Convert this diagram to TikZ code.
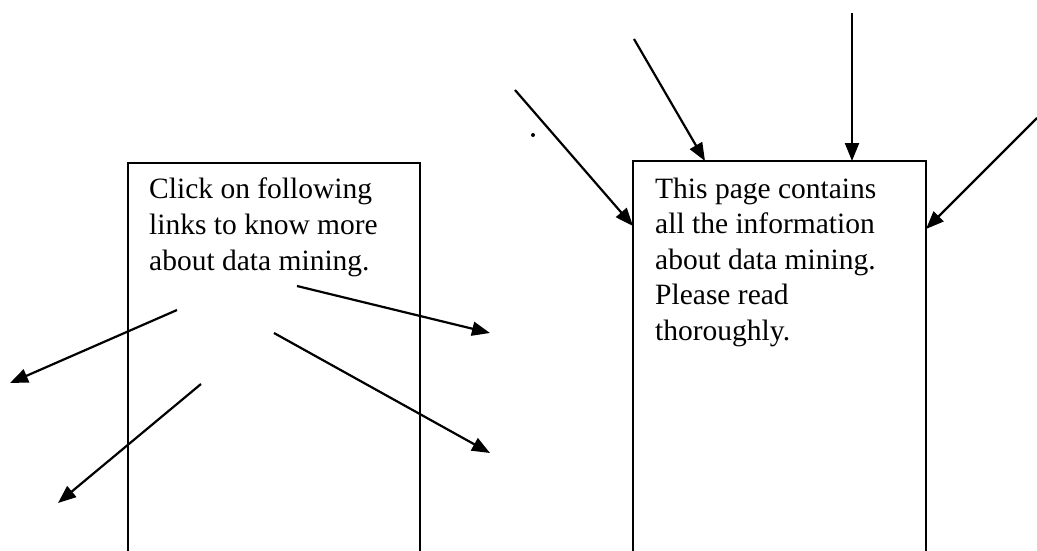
\documentclass[tikz,border=0pt]{standalone}
\usepackage{fontspec}
\setmainfont{Liberation Serif}
\usetikzlibrary{arrows.meta,calc}
\begin{document}
\begin{tikzpicture}[x=1pt,y=-1pt,
  page/.style={draw,line width=2pt,minimum width=292pt,minimum height=430pt,
               anchor=north west,inner sep=0pt,outer sep=0pt},
  pagetext/.style={anchor=north west,align=left,inner sep=0pt,
                   font=\fontsize{29.5}{36}\selectfont},
  link/.style={line width=2.2pt,-{Triangle[length=18pt,width=14pt]}}]
\useasboundingbox (0,0) rectangle (1037,550);
\clip (0,0) rectangle (1037,550);

% the two pages, running off the bottom edge
\node[page] (lbox) at (128,163) {};
\node[page,minimum width=293pt] (rbox) at (633,161) {};

\node[pagetext] (ltext) at (149,178)
  {Click on following\\links to know more\\about data mining.};
\node[pagetext,font=\fontsize{29.5}{35.5}\selectfont] (rtext) at (655,177.5)
  {This page contains\\all the information\\about data mining.\\Please read\\thoroughly.};

% outgoing links from the left page
\coordinate (l1s) at (297,286); \coordinate (l1e) at (490,333);
\coordinate (l2s) at (274,333); \coordinate (l2e) at (490,453);
\coordinate (l3s) at (177,310); \coordinate (l3e) at (10,383);
\coordinate (l4s) at (201,384); \coordinate (l4e) at (58,503);
\draw[link] (l1s) -- (l1e);
\draw[link] (l2s) -- (l2e);
\draw[link] (l3s) -- (l3e);
\draw[link] (l4s) -- (l4e);

% incoming links to the right page
\coordinate (r1s) at (515,90);
\coordinate (r2s) at (634,39);
\coordinate (r3s) at (852,13);
\coordinate (r4s) at (1037,118);
\draw[link] (r1s) -- ($(rbox.north west)+(0,65)$);
\draw[link] (r2s) -- ($(rbox.north west)+(72,0)$);
\draw[link] (r3s) -- ($(rbox.north west)+(219,0)$);
\draw[link] (r4s) -- ($(rbox.north east)+(0,68)$);

% stray speck
\fill (533,135) circle (2);
\end{tikzpicture}
\end{document}
